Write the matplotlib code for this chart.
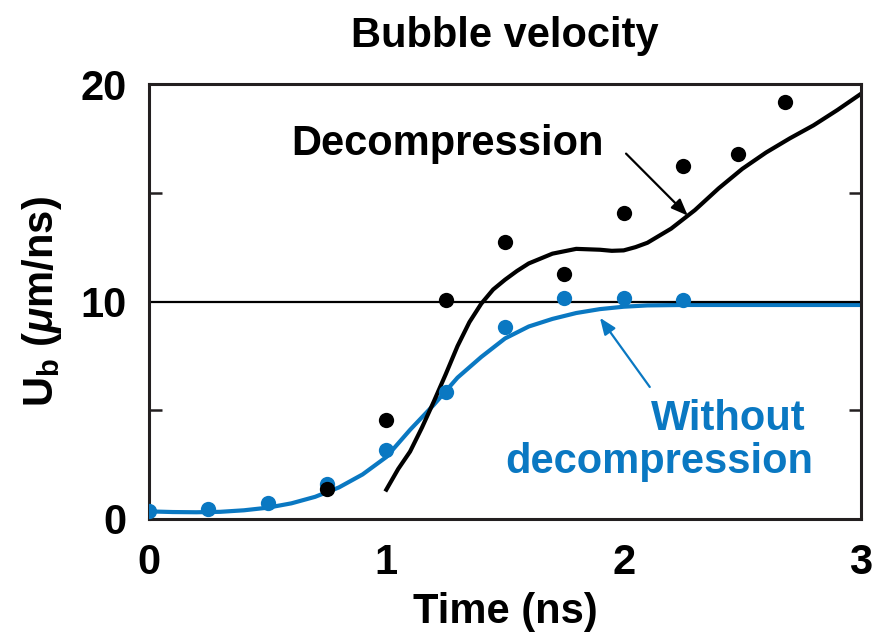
import matplotlib
matplotlib.use("Agg")
import matplotlib.pyplot as plt

BLUE = "#0a78c2"

# measured bubble velocities (ns, um/ns)
t_decomp = [0.75, 1.0, 1.25, 1.5, 1.75, 2.0, 2.25, 2.48, 2.68]
u_decomp = [1.38, 4.55, 10.05, 12.72, 11.25, 14.08, 16.23, 16.77, 19.19]

t_nodecomp = [0.0, 0.25, 0.5, 0.75, 1.0, 1.25, 1.5, 1.75, 2.0, 2.25]
u_nodecomp = [0.38, 0.45, 0.74, 1.6, 3.17, 5.85, 8.84, 10.15, 10.15, 10.05]

# simulated curves
t_sim_decomp = [1.0, 1.05, 1.1, 1.15, 1.2, 1.25, 1.3, 1.35, 1.4, 1.45, 1.5,
                1.55, 1.6, 1.7, 1.8, 1.9, 1.95, 2.0, 2.05, 2.1, 2.2, 2.3,
                2.4, 2.5, 2.6, 2.7, 2.8, 2.9, 3.0]
u_sim_decomp = [1.35, 2.3, 3.1, 4.2, 5.4, 6.65, 7.95, 9.05, 9.9, 10.55, 11.0,
                11.4, 11.75, 12.2, 12.42, 12.38, 12.33, 12.35, 12.5, 12.7, 13.35, 14.2,
                15.2, 16.1, 16.85, 17.5, 18.1, 18.8, 19.55]

t_sim_nodecomp = [0.0, 0.1, 0.2, 0.3, 0.4, 0.5, 0.6, 0.7, 0.8, 0.9, 1.0, 1.1,
                  1.2, 1.3, 1.4, 1.5, 1.6, 1.7, 1.8, 1.9, 2.0, 2.1, 2.25, 2.5, 3.0]
u_sim_nodecomp = [0.35, 0.32, 0.31, 0.33, 0.4, 0.52, 0.72, 1.02, 1.45, 2.05, 2.85, 4.1,
                  5.25, 6.5, 7.45, 8.3, 8.85, 9.2, 9.47, 9.65, 9.76, 9.82, 9.84, 9.84, 9.84]

plt.rcParams["font.family"] = ["Liberation Sans", "DejaVu Sans"]
plt.rcParams["font.weight"] = "bold"
plt.rcParams["mathtext.fontset"] = "custom"
plt.rcParams["mathtext.rm"] = "Liberation Sans:bold"
plt.rcParams["mathtext.it"] = "Liberation Sans:italic:bold"
plt.rcParams["mathtext.bf"] = "Liberation Sans:bold"

FS = 30

fig = plt.figure(figsize=(8.8, 6.36), dpi=100)
ax = fig.add_axes([149 / 880, 1 - 519 / 636, 712 / 880, 435 / 636])

ax.plot(t_sim_nodecomp, u_sim_nodecomp, color=BLUE, lw=3, zorder=2)
ax.plot(t_sim_decomp, u_sim_decomp, color="black", lw=3, zorder=2)
ax.axhline(10, color="black", lw=1.6, zorder=2.5)
ax.plot(t_nodecomp, u_nodecomp, "o", color=BLUE, ms=11, mew=0, zorder=3)
ax.plot(t_decomp, u_decomp, "o", color="black", ms=11, mew=0, zorder=4)

ax.set_xlim(0, 3)
ax.set_ylim(0, 20)
ax.set_xticks([0, 1, 2, 3])
ax.set_yticks([0, 10, 20])
ax.set_xticks([1, 2], minor=True)
ax.set_yticks([5, 15], minor=True)
ax.tick_params(which="both", direction="in", top=True, right=True, width=1.8,
               labelsize=FS, color="#231f20")
ax.tick_params(axis="x", which="both", length=14, pad=17)
ax.tick_params(axis="y", which="both", length=9, pad=16)
ax.tick_params(which="major", length=0)
for s in ax.spines.values():
    s.set_linewidth(2.2)
    s.set_color("#231f20")

ax.set_title("Bubble velocity", fontsize=FS, fontweight="bold", pad=27)
ax.set_xlabel("Time (ns)", fontsize=FS, fontweight="bold", labelpad=7)
ax.set_ylabel(r"U$_\mathrm{b}$ ($\mu$m/ns)", fontsize=FS, fontweight="bold", labelpad=12)

ax.text(1.256, 16.74, "Decompression", fontsize=FS, fontweight="bold",
        ha="center", va="baseline")
ax.annotate("", xy=(2.27, 13.95), xytext=(2.01, 16.8),
            arrowprops=dict(arrowstyle="-|>,head_length=1.0,head_width=0.4",
                            color="black", lw=1.6, shrinkA=0, shrinkB=0))

ax.text(2.765, 4.09, "Without", fontsize=FS, fontweight="bold", color=BLUE,
        ha="right", va="baseline")
ax.text(2.80, 2.1, "decompression", fontsize=FS, fontweight="bold", color=BLUE,
        ha="right", va="baseline")
ax.annotate("", xy=(1.90, 9.25), xytext=(2.11, 6.07),
            arrowprops=dict(arrowstyle="-|>,head_length=1.0,head_width=0.4",
                            color=BLUE, lw=1.6, shrinkA=0, shrinkB=0))

fig.savefig("out.png", dpi=100)
